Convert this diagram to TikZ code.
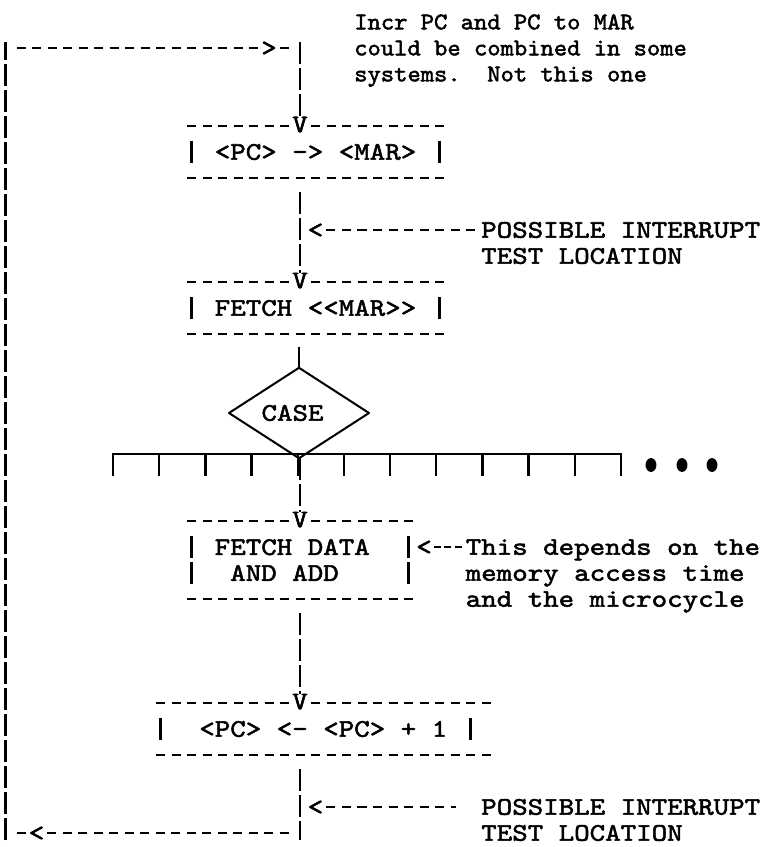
\documentclass[tikz,border=0pt]{standalone}
\usepackage{fontspec}
\usetikzlibrary{shapes.geometric,calc}
\newfontfamily\tw[FakeBold=2,FakeStretch=1.165]{lmmono10-regular.otf}
\newfontfamily\twc[FakeBold=2,FakeStretch=1.056]{lmmono10-regular.otf}
\newcommand\ph{\hphantom{X}}
\newcommand\gx[1]{300+15.5*(#1)}
\tikzset{
  ttf/.style={font=\tw\fontsize{19}{19.4}\selectfont\frenchspacing, inner sep=0pt, outer sep=0pt},
  tt/.style={ttf, text height=11.6pt, text depth=0pt},
  ttc/.style={font=\twc\fontsize{18}{18}\selectfont\frenchspacing, inner sep=0pt, outer sep=0pt, text height=11pt, text depth=0pt, anchor=west},
  ttw/.style={tt, anchor=west},
  glyph/.style={tt, fill=white},
  dashln/.style={line width=1.7pt, dash pattern=on 6.75pt off 4.875pt},
  shortdash/.style={line width=1.7pt, dash pattern=on 5.25pt off 2.6pt},
  barln/.style={line width=1.7pt, dash pattern=on 16.5pt off 3pt},
  solidln/.style={line width=1.8pt},
  boxnode/.style={tt, minimum height=39pt},
}
\begin{document}
\begin{tikzpicture}[x=0.75pt,y=-0.75pt]
\fill[white] (0,0) rectangle (770,847);
\useasboundingbox (0,0) rectangle (770,847);

% ---------- top comment
\node[ttc] (c1) at ({\gx{4}-7.75},22) {Incr PC and PC to MAR};
\node[ttc] (c2) at ({\gx{4}-7.75},48) {could be combined in some};
\node[ttc] (c3) at ({\gx{4}-7.75},74) {systems.~ Not this one};

% ---------- loop corners
\coordinate (tl) at ({\gx{-19}},48);
\coordinate (tr) at ({\gx{0}},48);
\coordinate (bl) at ({\gx{-19}},833);
\coordinate (br) at ({\gx{0}},833);

% ---------- box 1
\node[boxnode, minimum width=186pt] (b1) at ({\gx{1}},152) {<PC> -> <MAR>};
\draw[dashln] ([xshift=-3.375pt]b1.north west) -- ([xshift=3.375pt]b1.north east);
\draw[dashln] ([xshift=-3.375pt]b1.south west) -- ([xshift=3.375pt]b1.south east);
\draw[solidln] ([yshift=8pt]b1.west) -- ([yshift=-8pt]b1.west);
\draw[solidln] ([yshift=8pt]b1.east) -- ([yshift=-8pt]b1.east);
\node[glyph] (v1) at ({\gx{0}},124.5) {V};

% ---------- box 2
\node[boxnode, minimum width=186pt] (b2) at ({\gx{1}},308) {FETCH <<MAR>>};
\draw[dashln] ([xshift=-3.375pt]b2.north west) -- ([xshift=3.375pt]b2.north east);
\draw[dashln] ([xshift=-3.375pt]b2.south west) -- ([xshift=3.375pt]b2.south east);
\draw[solidln] ([yshift=8pt]b2.west) -- ([yshift=-8pt]b2.west);
\draw[solidln] ([yshift=8pt]b2.east) -- ([yshift=-8pt]b2.east);
\node[glyph] (v2) at ({\gx{0}},280.5) {V};

% ---------- diamond and bus
\node[diamond, draw, line width=1.5pt, line join=round, ttf, text height=11.6pt, text depth=0pt,
      minimum width=105pt, minimum height=60.75pt, inner sep=0pt] (case) at (299,413) {CASE\kern9.75pt};
\coordinate (busL) at (113,454);
\coordinate (busR) at (621,454);
\draw[solidln, line join=miter] ($(busL)+(0,22)$) -- (busL) -- (busR) -- ($(busR)+(0,22)$);
\foreach \k in {1,...,10} { \draw[solidln] ($(busL)+({\k*46.18},0)$) -- ++(0,22); }
\fill (651,465) ellipse [x radius=4.1pt, y radius=5.2pt];
\fill (682,465) ellipse [x radius=4.1pt, y radius=5.2pt];
\fill (712,465) ellipse [x radius=4.1pt, y radius=5.2pt];

% ---------- box 3
\node[ttf, align=left, minimum width=162.75pt, minimum height=58.5pt] (b3) at ({\gx{0}},560) {FETCH DATA\ph\\\ph AND ADD};
\draw[dashln] ([xshift=-3.375pt]b3.north west) -- ([xshift=3.375pt]b3.north east);
\draw[dashln] ([xshift=-3.375pt]b3.south west) -- ([xshift=3.375pt]b3.south east);
\draw[barln] ($(b3.west)+(0,-24)$) -- ($(b3.west)+(0,24)$);
\draw[barln] ($(b3.east)+(0,-24)$) -- ($(b3.east)+(0,24)$);
\node[glyph] (v3) at ({\gx{0}},519.5) {V};

% ---------- box 4
\node[boxnode, minimum width=232.5pt] (b4) at ({\gx{1}},729) {\ph<PC> <- <PC> + 1};
\draw[dashln] ([xshift=-3.375pt]b4.north west) -- ([xshift=15pt]b4.north east);
\draw[dashln] ([xshift=-3.375pt]b4.south west) -- ([xshift=15pt]b4.south east);
\draw[solidln] ([yshift=8pt]b4.west) -- ([yshift=-8pt]b4.west);
\draw[solidln] ([yshift=8pt]b4.east) -- ([yshift=-8pt]b4.east);
\node[glyph] (v4) at ({\gx{0}},701.5) {V};

% ---------- main flow connectors
\draw[barln] ($(tr)+(0,-6)$) -- (v1.north);
\draw[barln] ($(b1.south -| v2.north)+(0,14)$) -- (v2.north);
\draw[solidln] ($(b2.south -| case.north)+(0,13)$) -- (case.north);
\draw[barln] (case.south -| v3.north) -- (v3.north);
\draw[barln] ($(b3.south -| v4.north)+(0,14)$) -- (v4.north);
\draw[barln] ($(b4.south -| br)+(0,14)$) -- ($(br)+(0,7)$);

% ---------- loop back
\node[glyph] (lt3) at ({\gx{-17}},833) {<};
\draw[dashln] ([xshift=2.4375pt]lt3.east) -- ($(br)+(-11,0)$);
\draw[dashln] ([xshift=-2.4375pt]lt3.west) -- ++(-9,0);
\draw[barln] ($(bl)+(0,7)$) -- ($(tl)+(0,-6)$);
\node[glyph] (gt1) at ({\gx{-2}},48) {>};
\draw[dashln] ($(tl)+(11,0)$) -- ([xshift=-2.4375pt]gt1.west);
\draw[dashln] ([xshift=2.4375pt]gt1.east) -- ++(9,0);

% ---------- interrupt test location 1
\node[glyph] (lt1) at ({\gx{1}},230) {<};
\node[ttw] (pi1) at ({\gx{11.5}+3},230) {POSSIBLE INTERRUPT};
\node[ttw] (tl1) at ({\gx{11.5}+3},256) {TEST LOCATION};
\draw[dashln] ([xshift=2.4375pt]lt1.east) -- ++(149.4,0);

% ---------- memory access note
\node[glyph] (lt4) at ({\gx{8}},547) {<};
\node[ttw] (d1) at ({\gx{10.5}+3},547) {This depends on the};
\node[ttw] (d2) at ({\gx{10.5}+3},573) {memory access time};
\node[ttw] (d3) at ({\gx{10.5}+3},599) {and the microcycle};
\draw[shortdash] ([xshift=1.5pt]lt4.east) -- ([xshift=-1.2pt]d1.west);

% ---------- interrupt test location 2
\node[glyph] (lt2) at ({\gx{1}},807) {<};
\node[ttw] (pi2) at ({\gx{11.5}+3},807) {POSSIBLE INTERRUPT};
\node[ttw] (tl2) at ({\gx{11.5}+3},833) {TEST LOCATION};
\draw[dashln] ([xshift=2.4375pt]lt2.east) -- ++(129,0);
\end{tikzpicture}
\end{document}
